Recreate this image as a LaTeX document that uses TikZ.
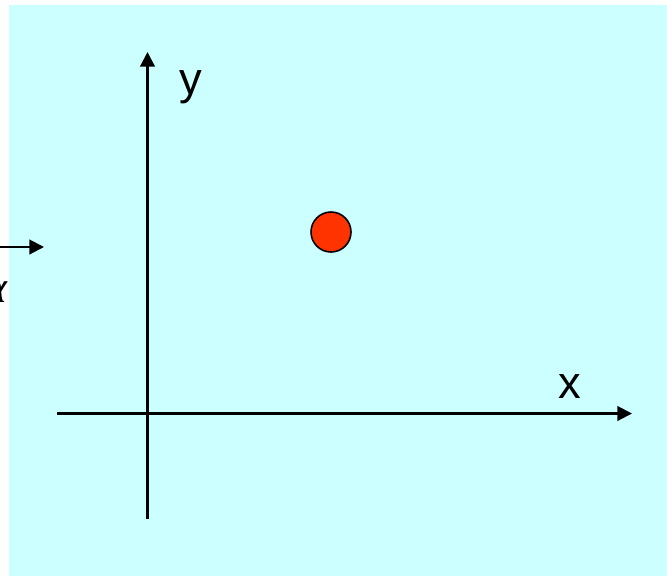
\documentclass[tikz,border=0pt]{standalone}
\usepackage{fontspec}
\setmainfont{Liberation Sans}
\newfontfamily\greekfont{Liberation Serif}
\usetikzlibrary{arrows.meta}
\definecolor{bgcyan}{HTML}{CCFFFF}
\definecolor{dotred}{HTML}{FF3300}
\begin{document}
\begin{tikzpicture}[x=0.75pt,y=-0.75pt,
  axis/.style={line width=1.6pt,-{Triangle[length=11pt,width=11pt]}},
  lbl/.style={font=\fontsize{34}{40}\selectfont,inner sep=0pt}]
\useasboundingbox (0,0) rectangle (667,576);
\fill[bgcyan] (8.5,5) rectangle (667,576);
\coordinate (xs) at (57,413.5);
\coordinate (xe) at (632,413.5);
\coordinate (ys) at (147.5,519);
\coordinate (ye) at (147.5,52);
\draw[axis] (xs) -- (xe);
\draw[axis] (ys) -- (ye);
\node[lbl,anchor=base] (xl) at (570,398) {x};
\node[lbl,anchor=base] (yl) at (191,94) {y};
\node[circle,draw=black,line width=1.2pt,fill=dotred,minimum size=30pt,inner sep=0pt] (dot) at (331,232) {};
\coordinate (as) at (-5,247);
\coordinate (ae) at (44,247);
\draw[axis] (as) -- (ae);
\node[inner sep=0pt,anchor=base,font=\greekfont\itshape\fontsize{34}{40}\selectfont] (al) at (-5,302) {α};
\end{tikzpicture}
\end{document}
